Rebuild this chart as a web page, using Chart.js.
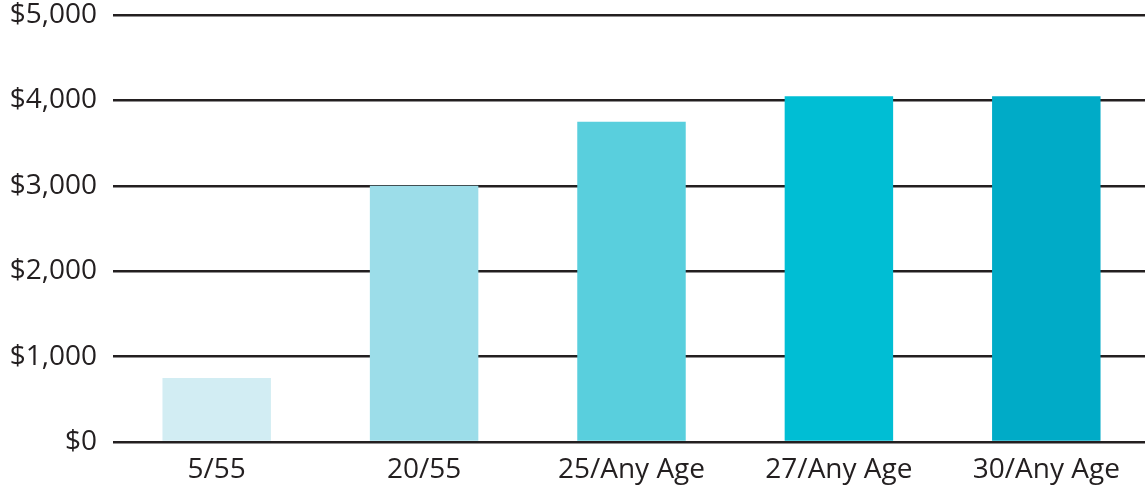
<!DOCTYPE html>
<html>
<head>
<meta charset="utf-8">
<script src="https://cdn.jsdelivr.net/npm/chart.js@4"></script>
<style>
    html, body { margin: 0; padding: 0; background: #fff; overflow: hidden; }
    #wrap { width: 1150px; height: 487px; }
</style>
</head>
<body>
<div id="wrap"><canvas id="chart"></canvas></div>
<script>
const categories = ["5/55", "20/55", "25/Any Age", "27/Any Age", "30/Any Age"];
const values = [750, 3000, 3750, 4050, 4050];
const barColors = ["#d2edf3", "#9cdde9", "#59cfdd", "#00bed4", "#00abc7"];
const yTicks = [0, 1000, 2000, 3000, 4000, 5000];

const textColor = "#231f20";
const font = { family: "'Open Sans', 'Noto Sans', sans-serif", size: 28 };

new Chart(document.getElementById("chart"), {
    type: "bar",
    data: {
        labels: categories,
        datasets: [
            {
                data: values,
                backgroundColor: barColors,
                barPercentage: 0.523,
                categoryPercentage: 1,
            },
        ],
    },
    options: {
        responsive: true,
        maintainAspectRatio: false,
        animation: false,
        layout: { padding: { top: 15, right: 0, left: 0, bottom: 0 } },
        plugins: {
            legend: { display: false },
            tooltip: { enabled: false },
        },
        scales: {
            x: {
                grid: { display: false, drawTicks: false },
                border: { display: false },
                ticks: { color: textColor, font: font, padding: 11, maxRotation: 0 },
                afterFit: (scale) => {
                    scale.height = 45;
                    scale.paddingLeft = 0;
                    scale.paddingRight = 0;
                },
            },
            y: {
                min: yTicks[0],
                max: yTicks[yTicks.length - 1],
                afterBuildTicks: (scale) => {
                    scale.ticks = yTicks.map((v) => ({ value: v }));
                },
                grid: { color: textColor, lineWidth: 2.5, drawTicks: false },
                border: { display: false },
                ticks: {
                    color: textColor,
                    font: font,
                    padding: 16,
                    callback: (v) => "$" + Number(v).toLocaleString("en-US"),
                },
                afterFit: (scale) => {
                    scale.width = 113;
                    scale.paddingTop = 0;
                    scale.paddingBottom = 0;
                },
            },
        },
    },
});
</script>
</body>
</html>
